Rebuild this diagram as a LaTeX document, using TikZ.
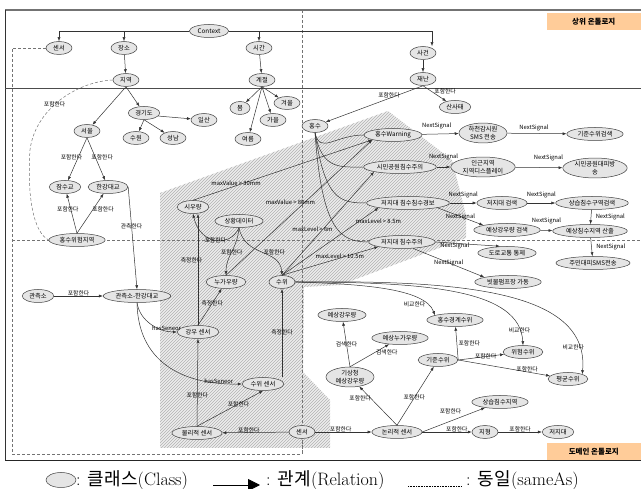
\documentclass[tikz,border=0pt]{standalone}
\usepackage{fontspec}
\usetikzlibrary{shapes.geometric,arrows.meta,patterns}
\newfontfamily\kr{Noto Sans CJK KR}
\definecolor{tagpeach}{HTML}{FFCC99}
\newcommand\nodefont{\kr\fontsize{6.3}{7.4}\selectfont}
\newcommand\relfont{\kr\fontsize{5.8}{6.5}\selectfont}
\newcommand\legfont{\fontsize{18}{20}\selectfont}
\tikzset{
  cls/.style={ellipse, draw=black!75, fill=black!10, line width=0.5pt, inner xsep=2.5pt, inner ysep=0.5pt,
    minimum width=26pt, minimum height=13pt, align=center, font=\nodefont},
  lbl/.style={inner sep=0.5pt, font=\relfont},
  rel/.style={draw=black!80, line width=0.5pt, -{Latex[length=4pt,width=3pt]}},
  link/.style={draw=black!80, line width=0.5pt},
  same/.style={draw=black!55, line width=0.5pt, dash pattern=on 3pt off 2pt},
  tag/.style={fill=tagpeach, minimum width=94pt, minimum height=17pt, inner sep=0pt,
    font=\kr\bfseries\fontsize{7.5}{8}\selectfont},
  legtxt/.style={inner sep=0pt, font=\legfont}
}
\begin{document}
\begin{tikzpicture}[x=1pt,y=-1pt]
    \useasboundingbox (0,0) rectangle (641,489);
    \path[fill=black!7, postaction={pattern=north east lines, pattern color=black!30}]
      (160,193) -- (388,111) -- (452,160) -- (466,215) -- (466,238) -- (340,285) -- (304,287)
      -- (303,372) -- (330,400) -- (330,448) -- (160,448) -- cycle;
    \draw[black!55, line width=1.5pt] (5,10) -- (641,10);
    \draw[black!80, line width=0.6pt] (5,10) -- (5,461);
    \draw[black!85, line width=1pt] (5,461) -- (641,461);
    \draw[black!70, line width=0.6pt] (5,88) -- (641,88);
    \draw[same] (302,10) -- (302,454);
    \draw[same] (12,240) -- (641,240);
    \node[tag, anchor=north east] (tagUp) at (641,13) {상위 온톨로지};
    \node[tag, anchor=south east] (tagDown) at (641,460) {도메인 온톨로지};

    \node[cls] (ctx) at (209,31) {Context};
    \node[cls] (sensorU) at (59,48) {센서};
    \node[cls] (place) at (124,48) {장소};
    \node[cls] (time) at (259,48) {시간};
    \node[cls] (event) at (423,53) {사건};
    \node[cls] (region) at (126,80) {지역};
    \node[cls] (season) at (262,80) {계절};
    \node[cls] (disaster) at (423,79) {재난};
    \node[cls] (seoul) at (87,131) {서울};
    \node[cls] (gyeonggi) at (144,113) {경기도};
    \node[cls] (ilsan) at (204,120) {일산};
    \node[cls] (suwon) at (136,138) {수원};
    \node[cls] (seongnam) at (173,138) {성남};
    \node[cls, minimum width=20pt] (spring) at (240,108) {봄};
    \node[cls] (winter) at (287,103) {겨울};
    \node[cls] (autumn) at (273,120) {가을};
    \node[cls] (summer) at (248,139) {여름};
    \node[cls] (flood) at (315,126) {홍수};
    \node[cls] (landslide) at (455,107) {산사태};

    \node[cls] (jamsu) at (65,187) {잠수교};
    \node[cls] (hangang) at (108,187) {한강대교};
    \node[cls] (riskArea) at (77,240) {홍수위험지역};
    \node[cls] (obs) at (38,296) {관측소};
    \node[cls] (obsHan) at (137,296) {관측소-한강대교};
    \node[cls] (hourly) at (193,207) {시우량};
    \node[cls] (situ) at (239,221) {상황데이터};
    \node[cls] (cumul) at (226,282) {누가우량};
    \node[cls] (level) at (282,282) {수위};
    \node[cls] (floodWarn) at (393,135) {홍수Warning};
    \node[cls] (smsRiver) at (483,133) {하천감시원\\SMS 전송};
    \node[cls] (stdSearch) at (595,134) {기준수위검색};
    \node[cls] (parkCaution) at (400,167) {시민공원침수주의};
    \node[cls] (display) at (483,167) {인근지역\\지역디스플레이};
    \node[cls] (parkBroad) at (595,168) {시민공원대피방\\송};
    \node[cls] (lowAlarm) at (408,203) {저지대 침수침수경보};
    \node[cls] (lowSearch) at (502,203) {저지대 검색};
    \node[cls] (habitSearch) at (592,203) {상습침수구역검색};
    \node[cls] (rainSearch) at (507,230) {예상강우량 검색};
    \node[cls] (areaCalc) at (590,231) {예상침수지역 산출};
    \node[cls] (lowCaution) at (402,242) {저지대 침수주의};
    \node[cls] (smsResident) at (593,263) {주민대피SMS전송};
    \node[cls] (road) at (507,253) {도로교통 통제};
    \node[cls] (pump) at (508,282) {빗물펌프장 가동};

    \node[cls] (rainSensor) at (198,332) {강우 센서};
    \node[cls] (levelSensor) at (263,384) {수위 센서};
    \node[cls] (physSensor) at (197,433) {물리적 센서};
    \node[cls] (sensorL) at (302,432) {센서};
    \node[cls] (logicSensor) at (397,432) {논리적 센서};
    \node[cls] (terrain) at (485,432) {지형};
    \node[cls] (lowland) at (558,432) {저지대};
    \node[cls] (habitArea) at (500,402) {상습침수지역};
    \node[cls] (kma) at (350,377) {기상청\\예상강우량};
    \node[cls] (stdLevel) at (438,360) {기준수위};
    \node[cls] (dangerLevel) at (523,352) {위험수위};
    \node[cls] (avgLevel) at (568,379) {평균수위};
    \node[cls] (warnLevel) at (455,320) {홍수경계수위};
    \node[cls] (fcRain) at (342,315) {예상강우량};
    \node[cls] (fcCumul) at (400,338) {예상누가우량};

    \draw[same] (sensorU.west) -| (12,454) -| (sensorL.south);
    \draw[same] (region.west) .. controls (75,82) and (35,110) .. node[lbl, pos=.55] {포함한다} (30,150)
      .. controls (27,195) and (33,232) .. (riskArea.west);

    \draw[rel] (ctx.west) -| (sensorU);
    \draw[rel] (ctx.west) -| (place);
    \draw[rel] (ctx.east) -| (time);
    \draw[rel] (ctx.east) -| ([xshift=9pt]event.north);
    \draw[rel] (place) -- (region);
    \draw[rel] (time) -- (season);
    \draw[rel] (event) -- (disaster);
    \draw[rel] (region.south) -- (seoul);
    \draw[rel] (region.south) -- (gyeonggi);
    \draw[rel] (gyeonggi.south) -- (suwon);
    \draw[rel] (gyeonggi.south) -- (seongnam);
    \draw[rel] (gyeonggi.-12) -- (ilsan);
    \foreach \s in {spring,summer,autumn,winter}
    \draw[rel] (season.south) -- (\s);
    \draw[rel] (disaster.south) -- node[lbl, pos=.35, above] {포함한다} (flood);
    \draw[rel] (disaster.south) -- node[lbl, pos=.5, above right=-1pt] {포함한다} (landslide);

    \draw[rel] (seoul.south) -- node[lbl, pos=.45, xshift=-7pt] {포함한다} (jamsu);
    \draw[rel] (seoul.south) -- node[lbl, pos=.45, xshift=7pt] {포함한다} (hangang);
    \draw[rel] (riskArea.north) -- node[lbl, pos=.6, xshift=-3pt] {포함한다} (jamsu);
    \draw[rel] (riskArea.north) -- node[lbl, pos=.6, xshift=10pt] {포함한다} (hangang);
    \draw[rel] (hangang.east) -- node[lbl, pos=.38] {관측한다} (obsHan.north);
    \draw[rel] (obs) -- node[lbl, above=-1pt] {포함한다} (obsHan);
    \draw[rel] (obsHan.south) .. controls (140,322) and (160,332) .. node[lbl, pos=.8, above=-1pt] {hasSeneor} (rainSensor.west);
    \draw[rel] (obsHan.south) .. controls (138,360) and (180,385) .. node[lbl, pos=.87, above=-1pt] {hasSeneor} (levelSensor.west);

    \draw[rel] (rainSensor.north) -- node[lbl, pos=.58, left=-5pt] {측정한다} (rainSensor.north |- hourly.south);
    \draw[rel] (rainSensor.north) -- node[lbl, pos=.6] {측정한다} (cumul);
    \draw[rel] (levelSensor.north -| level.south) -- node[lbl, pos=.51] {측정한다} (level.south);
    \draw[rel] (physSensor.north) -- node[lbl, pos=.35] {포함한다} (rainSensor.south);
    \draw[rel] (physSensor.north) -- node[lbl, pos=.63] {포함한다} (levelSensor.south);
    \draw[rel] (sensorL) -- node[lbl, pos=.6, above=-1pt] {포함한다} (physSensor);
    \draw[rel] (sensorL) -- node[lbl, pos=.45, above=-1pt] {포함한다} (logicSensor);

    \draw[rel] (situ.south) .. controls (230,248) and (200,245) .. node[lbl, pos=.5] {포함한다} (hourly.south);
    \draw[rel] (situ.south) .. controls (237,250) and (226,255) .. node[lbl, pos=.5] {포함한다} (cumul.north);
    \draw[rel] (situ.south) .. controls (245,258) and (280,248) .. node[lbl, pos=.55, above right=-2pt] {포함한다} (level.north);

    \draw[rel] (hourly.north) -- node[lbl, pos=.24, above=-1pt] {maxValue > 30mm} (floodWarn.south west);
    \draw[rel] (cumul.north) -- node[lbl, pos=.44, yshift=13pt] {maxValue > 80mm} (floodWarn.south west);
    \draw[rel] (level.north) -- node[lbl, pos=.44, xshift=-10pt] {maxLevel > 6m} (parkCaution.south west);
    \draw[rel] (level.north) -- node[lbl, pos=.8, anchor=west, xshift=-4pt] {maxLevel > 8.5m} (lowAlarm.south west);
    \draw[rel] (level.north) -- node[lbl, pos=.6, above=-1pt] {maxLevel > 10.5m} (lowCaution.south west);

    \draw[link] (flood.south) .. controls (320,155) and (335,135) .. (floodWarn.west);
    \draw[link] (flood.south) .. controls (322,170) and (340,167) .. (parkCaution.west);
    \draw[link] (flood.south) .. controls (325,200) and (340,203) .. (lowAlarm.west);
    \draw[link] (flood.south) .. controls (322,230) and (340,242) .. (lowCaution.west);

    \draw[rel] (floodWarn) -- node[lbl, pos=.4, above=4pt] {NextSignal} (smsRiver);
    \draw[rel] (smsRiver) -- node[lbl, pos=.45, above=2pt] {NextSignal} (stdSearch);
    \draw[rel] (parkCaution) -- node[lbl, pos=.5, above=6pt] {NextSignal} (display);
    \draw[rel] (display) -- node[lbl, pos=.7, above=6pt] {NextSignal} (parkBroad);
    \draw[rel] (lowAlarm) -- node[lbl, pos=.5, above=4pt] {NextSignal} (lowSearch);
    \draw[rel] (lowSearch) -- node[lbl, pos=.5, above=4pt] {NextSignal} (habitSearch);
    \draw[rel] (lowAlarm.south east) -- node[lbl, pos=.5] {NextSignal} (rainSearch.north west);
    \draw[rel] (habitSearch) -- node[lbl, right=4pt] {NextSignal} (areaCalc);
    \draw[rel] (rainSearch) -- node[lbl, above=6pt] {NextSignal} (areaCalc);
    \draw[rel] (areaCalc) -- node[lbl, right=4pt] {NextSignal} (smsResident);
    \draw[rel] (lowCaution.east) -- node[lbl, pos=.3, below=-1pt] {NextSignal} ([xshift=-7pt]road.north);
    \draw[rel] (lowCaution.-30) -- node[lbl, pos=.5] {NextSignal} (pump.north west);

    \draw[rel] (level.east) .. controls (360,284) and (425,288) .. node[lbl, pos=.85, left=1pt] {비교한다} (warnLevel.north west);
    \draw[rel] (level.east) .. controls (430,282) and (520,290) .. node[lbl, pos=.9] {비교한다} (dangerLevel.north);
    \draw[rel] (level.east) .. controls (460,280) and (590,290) .. node[lbl, pos=.88, xshift=-6pt] {비교한다} (avgLevel.north east);

    \draw[rel] (logicSensor.north) -- node[lbl, pos=.7, left=-1pt] {포함한다} (kma);
    \draw[rel] (logicSensor.north) -- node[lbl, pos=.47] {포함한다} (stdLevel);
    \draw[rel] (logicSensor.east) -- node[lbl, pos=.45, above=6pt] {포함한다} (habitArea);
    \draw[rel] (logicSensor.east) -- node[lbl, pos=.7, above=-1pt] {포함한다} (terrain);
    \draw[rel] (terrain) -- node[lbl, above=-1pt] {포함한다} (lowland);
    \draw[rel] (kma.north) -- node[lbl, pos=.5] {검색한다} (fcRain);
    \draw[rel] (kma.north) -- node[lbl, pos=.7, below right=-2pt] {검색한다} (fcCumul);
    \draw[rel] (stdLevel.east) -- node[lbl, pos=.5, right=1pt] {포함한다} (warnLevel);
    \draw[rel] (stdLevel.east) -- node[lbl, pos=.6] {포함한다} (dangerLevel);
    \draw[rel] (stdLevel.east) -- node[lbl, pos=.75, above=-1pt] {포함한다} (avgLevel);

    \node[cls, minimum width=30pt, minimum height=15pt] (legEll) at (61,480) {};
    \node[legtxt, anchor=west] (legClass) at (76,480) {: {\kr 클래스}(Class)};
    \coordinate (legA) at (213,485);
    \coordinate (legB) at (260,485);
    \draw[line width=0.8pt, -{Triangle[length=12pt,width=12pt]}] (legA) -- (legB);
    \node[legtxt, anchor=west] (legRel) at (266,480) {: {\kr 관계}(Relation)};
    \coordinate (legC) at (408,486);
    \coordinate (legD) at (461,486);
    \draw[densely dotted, line width=0.6pt] (legC) -- (legD);
    \node[legtxt, anchor=west] (legSame) at (466,480) {: {\kr 동일}(sameAs)};
\end{tikzpicture}
\end{document}
